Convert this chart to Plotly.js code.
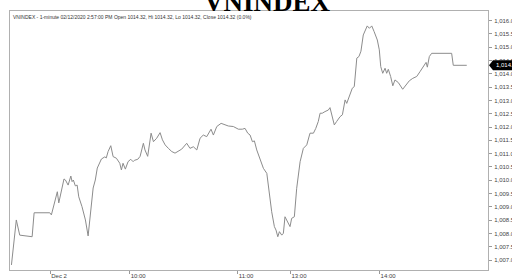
<!DOCTYPE html>
<html>
<head>
<meta charset="utf-8">
<script src="https://cdn.plot.ly/plotly-3.0.1.min.js"></script>
<style>html,body{margin:0;padding:0;background:#fff;}#chart{width:512px;height:278px;}</style>
</head>
<body>
<div id="chart"></div>
<script>
// bar index (1-minute bars, lunch break removed) and closing values
const barIndex = [0.2,2.9,4.8,11.7,12.8,21.5,22.4,24.3,25.7,26.5,27.6,29.4,30.2,31.7,33.2,33.9,34.6,35.7,36.7,37.6,39.4,41.3,42.8,43.7,45.6,46.8,47.9,50.2,52.1,52.9,53.9,55.4,56.7,58.5,60.4,61.3,62.2,63.5,65.0,66.5,67.8,68.5,70.4,71.7,73.5,74.4,75.9,77.8,79.1,80.9,82.8,84.1,85.6,87.4,89.3,91.1,92.9,94.8,97.6,99.4,101.3,103.2,105.0,106.8,108.7,111.1,112.4,114.3,116.7,118.9,120.7,123.5,126.3,128.5,130.0,131.5,132.8,134.1,135.2,136.5,138.3,140.2,142.1,143.3,144.8,146.3,147.2,148.2,149.1,150.4,151.3,152.2,153.7,155.0,155.9,157.4,158.7,160.6,162.4,164.3,166.1,168.0,169.3,170.7,171.7,172.9,174.4,176.3,177.2,178.5,179.6,180.9,182.8,184.1,185.6,186.5,187.8,189.6,190.7,192.1,193.3,194.4,195.7,197.1,197.9,199.1,200.4,201.7,203.5,204.6,205.4,206.5,207.8,208.7,209.6,210.9,212.1,213.3,215.2,217.6,219.4,221.3,223.2,225.4,227.2,229.1,230.6,231.3,232.4,233.7,244.8,245.7,253.2];
const closeValues = [1006.82,1008.51,1007.94,1007.88,1008.78,1008.78,1008.70,1009.26,1009.57,1009.15,1009.52,1010.05,1010.01,1009.82,1010.16,1009.95,1010.01,1009.79,1009.82,1009.38,1009.01,1008.51,1007.91,1008.51,1009.71,1010.01,1010.46,1010.80,1010.88,1010.84,1011.08,1011.30,1010.89,1010.83,1010.64,1010.39,1010.64,1010.42,1010.70,1010.79,1010.70,1010.75,1010.79,1010.90,1011.39,1011.14,1010.90,1011.77,1011.45,1011.58,1011.79,1011.52,1011.33,1011.20,1011.08,1011.02,1011.08,1011.17,1011.39,1011.20,1011.26,1011.14,1011.58,1011.70,1011.64,1011.92,1011.70,1012.02,1012.14,1012.08,1012.04,1012.02,1011.92,1011.92,1011.95,1011.77,1011.70,1011.45,1011.48,1011.14,1010.76,1010.45,1010.26,1009.57,1008.82,1008.26,1008.13,1007.88,1008.07,1007.94,1008.01,1008.63,1008.44,1008.26,1008.57,1008.63,1009.70,1010.70,1011.20,1011.33,1011.77,1011.77,1011.95,1012.21,1012.52,1012.52,1012.58,1012.64,1012.73,1012.39,1012.08,1012.21,1012.39,1012.46,1013.02,1012.89,1013.14,1013.46,1013.52,1014.59,1014.65,1014.85,1015.46,1015.65,1015.80,1015.71,1015.80,1015.59,1015.27,1014.90,1014.27,1014.02,1014.21,1014.02,1014.17,1013.90,1013.55,1013.77,1013.67,1013.42,1013.58,1013.74,1013.83,1013.90,1014.08,1014.30,1014.43,1014.25,1014.65,1014.77,1014.77,1014.32,1014.32];
const xTickIndex = [21.7, 65.6, 125.6, 155.0, 204.5];
const xTickLabels = ["Dec 2", "10:00", "11:00", "13:00", "14:00"];
const yTickValues = [1007,1007.5,1008,1008.5,1009,1009.5,1010,1010.5,1011,1011.5,1012,1012.5,1013,1013.5,1014,1014.5,1015,1015.5,1016];
const chartTitle = "VNINDEX";
const headerText = "VNINDEX - 1-minute 02/12/2020 2:57:00 PM Open 1014.32, Hi 1014.32, Lo 1014.32, Close 1014.32 (0.0%)";

const lastVal = closeValues[closeValues.length - 1];
const lastLabel = lastVal.toLocaleString("en-US", {minimumFractionDigits: 1, maximumFractionDigits: 1});

const fontFam = "Liberation Sans, Arial, sans-serif";

const trace = {
  x: barIndex, y: closeValues, type: "scatter", mode: "lines",
  line: {color: "#8c8c8c", width: 1}, hoverinfo: "skip"
};

const layout = {
  width: 512, height: 278,
  margin: {l: 10, r: 24, t: 11, b: 8, pad: 0},
  paper_bgcolor: "#ffffff", plot_bgcolor: "#ffffff",
  showlegend: false,
  xaxis: {
    range: [-0.6, 265], tickvals: xTickIndex, ticktext: xTickLabels,
    ticks: "outside", ticklen: 3, tickcolor: "#999", tickwidth: 1,
    ticklabelshift: 9, ticklabelstandoff: -3,
    tickfont: {family: fontFam, size: 6, color: "#444"},
    showgrid: false, zeroline: false, showline: true, linecolor: "#b0b0b0", linewidth: 1, mirror: true
  },
  yaxis: {
    side: "right", range: [1006.63, 1016.36], tickvals: yTickValues, tickformat: ",.1f",
    ticks: "outside", ticklen: 3, tickcolor: "#999", tickwidth: 1, ticklabelstandoff: 1,
    tickfont: {family: fontFam, size: 6, color: "#444"},
    showgrid: false, zeroline: false, showline: true, linecolor: "#b0b0b0", linewidth: 1, mirror: true
  },
  shapes: [{
    type: "path", xref: "paper", yref: "y", xsizemode: "pixel", ysizemode: "pixel",
    xanchor: 1, yanchor: lastVal,
    path: "M1,0 L5,5 L26,5 L26,-5 L5,-5 Z",
    fillcolor: "#000", line: {width: 0}, layer: "above"
  }],
  annotations: [
    {text: "<b>" + chartTitle + "</b>", xref: "paper", yref: "paper", x: 0.538, y: 1, yshift: -8,
     xanchor: "center", yanchor: "bottom", showarrow: false,
     font: {family: "Liberation Serif, Times New Roman, serif", size: 27, color: "#000"}},
    {text: headerText, xref: "paper", yref: "paper", x: 0, xshift: 1, y: 1, yshift: -1,
     xanchor: "left", yanchor: "top", showarrow: false,
     font: {family: fontFam, size: 5, color: "#333"}},
    {text: lastLabel, xref: "paper", yref: "y", x: 1, xshift: 6, y: lastVal,
     xanchor: "left", yanchor: "middle", showarrow: false,
     font: {family: fontFam, size: 6, color: "#fff"}}
  ]
};

Plotly.newPlot("chart", [trace], layout, {staticPlot: true, displayModeBar: false});
</script>
</body>
</html>
